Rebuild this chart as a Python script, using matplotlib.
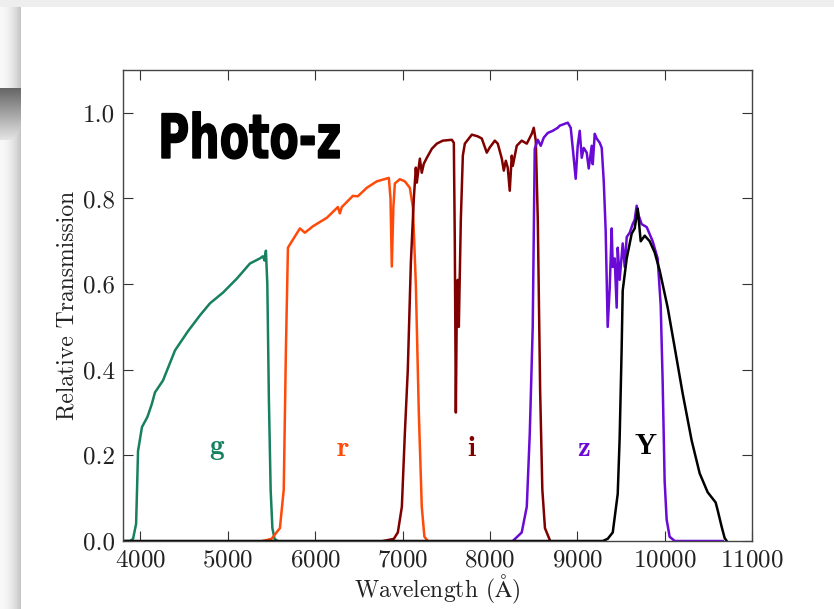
#!/usr/bin/env python3
"""Relative transmission of the g, r, i, z, Y photometric filters (Photo-z slide)."""

import numpy as np
import matplotlib
matplotlib.use("Agg")
import matplotlib.pyplot as plt
from matplotlib.textpath import TextPath
from matplotlib.patches import PathPatch
from matplotlib.font_manager import FontProperties
from matplotlib.transforms import Affine2D

# Filter curves: wavelength (Angstrom) and relative transmission
g_wave = [3800, 3880, 3915, 3950, 3962, 3972, 4017, 4080, 4130, 4166, 4258, 4395, 4544,
          4681, 4795, 4944, 5104, 5253, 5367, 5402, 5420, 5436, 5452, 5470, 5490,
          5510, 5535, 5570]
g_trans = [0.0, 0.0, 0.005, 0.04, 0.13, 0.21, 0.266, 0.29, 0.32, 0.347, 0.375, 0.445,
           0.49, 0.527, 0.555, 0.58, 0.613, 0.648, 0.66, 0.665, 0.655, 0.678, 0.60,
           0.33, 0.12, 0.03, 0.005, 0.0]

r_wave = [5400, 5500, 5596, 5640, 5665, 5688, 5733, 5825, 5882, 5974, 6134, 6260, 6282,
          6305, 6431, 6488, 6591, 6706, 6843, 6862, 6877, 6895, 6912, 6969, 7026, 7083,
          7118, 7152, 7186, 7220, 7250, 7290]
r_trans = [0.0, 0.005, 0.03, 0.12, 0.45, 0.685, 0.70, 0.73, 0.72, 0.735, 0.755, 0.78,
           0.765, 0.78, 0.806, 0.805, 0.825, 0.84, 0.848, 0.80, 0.641, 0.78, 0.835,
           0.845, 0.84, 0.825, 0.78, 0.60, 0.30, 0.08, 0.01, 0.0]

i_wave = [6780, 6900, 6946, 6992, 7026, 7060, 7095, 7129, 7152, 7163, 7198, 7220, 7243,
          7278, 7335, 7392, 7461, 7564, 7587, 7598, 7610, 7621, 7632, 7644, 7667, 7690,
          7713, 7793, 7861, 7907, 7964, 7998, 8056, 8090, 8136, 8159, 8182, 8204, 8227,
          8250, 8262, 8307, 8364, 8422, 8479, 8502, 8525, 8548, 8575, 8600, 8630, 8690]
i_trans = [0.0, 0.005, 0.02, 0.08, 0.25, 0.40, 0.65, 0.80, 0.872, 0.837, 0.893, 0.86,
           0.881, 0.895, 0.916, 0.928, 0.935, 0.937, 0.93, 0.70, 0.30, 0.55, 0.61, 0.50,
           0.75, 0.90, 0.928, 0.949, 0.945, 0.94, 0.907, 0.919, 0.935, 0.928, 0.893,
           0.865, 0.888, 0.872, 0.818, 0.90, 0.876, 0.923, 0.935, 0.928, 0.951, 0.965,
           0.935, 0.75, 0.35, 0.12, 0.03, 0.0]

z_wave = [8262, 8364, 8422, 8456, 8490, 8513, 8548, 8582, 8616, 8662, 8719, 8776, 8799,
          8891, 8925, 8948, 8982, 9005, 9028, 9051, 9074, 9108, 9131, 9165, 9177, 9200,
          9222, 9257, 9280, 9303, 9325, 9337, 9348, 9371, 9394, 9406, 9428, 9451, 9463,
          9485, 9520, 9543, 9566, 9600, 9634, 9657, 9680, 9703, 9737, 9795, 9863, 9920,
          9955, 9977, 10000, 10023, 10057, 10115, 10665]
z_trans = [0.0, 0.02, 0.08, 0.25, 0.50, 0.916, 0.937, 0.923, 0.942, 0.953, 0.958, 0.965,
           0.97, 0.977, 0.965, 0.918, 0.846, 0.923, 0.958, 0.895, 0.918, 0.907, 0.87,
           0.923, 0.88, 0.951, 0.94, 0.93, 0.918, 0.84, 0.725, 0.608, 0.50, 0.59, 0.73,
           0.64, 0.66, 0.545, 0.685, 0.61, 0.695, 0.64, 0.71, 0.72, 0.74, 0.75, 0.783,
           0.76, 0.74, 0.733, 0.70, 0.66, 0.55, 0.375, 0.14, 0.05, 0.01, 0.0, 0.0]

y_wave = [3800, 9291, 9348, 9406, 9463, 9485, 9508, 9520, 9566, 9623, 9657, 9692, 9726,
          9772, 9829, 9886, 9943, 10035, 10115, 10206, 10309, 10401, 10492, 10584,
          10607, 10653, 10687, 10710]
y_trans = [0.0, 0.0, 0.005, 0.02, 0.11, 0.24, 0.45, 0.585, 0.66, 0.718, 0.73, 0.776,
           0.70, 0.713, 0.70, 0.674, 0.632, 0.545, 0.452, 0.345, 0.235, 0.158, 0.114,
           0.09, 0.072, 0.033, 0.007, 0.0]

bands = ['g', 'r', 'i', 'z', 'Y']
band_colors = ['#168060', '#ff4a0a', '#800000', '#6a0ad6', 'black']
label_x = [4875, 6317, 7793, 9074, 9783]
label_y = [0.215, 0.215, 0.215, 0.215, 0.22]

plt.rcParams['font.family'] = 'serif'
plt.rcParams['font.serif'] = ['cmr10']
plt.rcParams['mathtext.fontset'] = 'cm'
plt.rcParams['axes.formatter.use_mathtext'] = True


def slide_background(fig):
    """Grey slide frame behind the white card"""
    h, w = 609, 834
    img = np.ones((h, w))
    img[:7, :] = 0.93
    xs = np.arange(21)
    img[7:, :21] = 0.97 - 0.20 * (xs / 20.0) ** 2
    ys = np.arange(88, 140)
    dark = 0.40 + 0.50 * (ys - 88) / 52.0
    img[88:140, :21] = np.minimum(img[88:140, :21], dark[:, None] + 0.0 * xs[None, :])
    bg = fig.add_axes([0, 0, 1, 1], zorder=-10)
    bg.imshow(img, cmap='gray', vmin=0, vmax=1, aspect='auto', interpolation='bilinear')
    bg.axis('off')


fig = plt.figure(figsize=(8.34, 6.09), dpi=100)
slide_background(fig)

ax = fig.add_axes([123 / 834, 1 - 541 / 609, 629 / 834, 471 / 609])
ax.patch.set_alpha(0)

curves = [(g_wave, g_trans), (r_wave, r_trans), (i_wave, i_trans),
          (z_wave, z_trans), (y_wave, y_trans)]
for (wave, trans), color in zip(curves, band_colors):
    ax.plot(wave, trans, color=color, lw=1.8, solid_joinstyle='round')

for band, color, lx, ly in zip(bands, band_colors, label_x, label_y):
    ax.text(lx, ly, r'$\mathbf{%s}$' % band, color=color, fontsize=21,
            ha='center', va='center')

# "Photo-z" in a narrow heavy sans: squeeze a bold outline horizontally
title_path = TextPath((0, 0), 'Photo-z', size=61,
                      prop=FontProperties(family='DejaVu Sans', weight='bold'))
title_tf = Affine2D().scale(0.70, 1.0).translate(158, 609 - 158)
fig.add_artist(PathPatch(title_path, transform=title_tf, facecolor='black',
                         edgecolor='black', lw=1.0))

ax.set_xlim(3800, 11000)
ax.set_ylim(0, 1.1)
ax.set_xticks(np.arange(4000, 11001, 1000))
ax.set_yticks(np.arange(0, 1.01, 0.2))
ax.set_yticklabels(['0.0', '0.2', '0.4', '0.6', '0.8', '1.0'])
ax.tick_params(direction='in', top=True, right=True, length=7, width=0.8, pad=6,
               labelsize=18, colors='#333333', labelcolor='#222222')
for sp in ax.spines.values():
    sp.set_color('#444444')
    sp.set_linewidth(1.0)

ax.set_xlabel(r'Wavelength ($\mathrm{\AA}$)', fontsize=17, color='#222222', labelpad=1)
ax.set_ylabel('Relative Transmission', fontsize=17, color='#222222', labelpad=3)

fig.savefig('out.png', dpi=100)
